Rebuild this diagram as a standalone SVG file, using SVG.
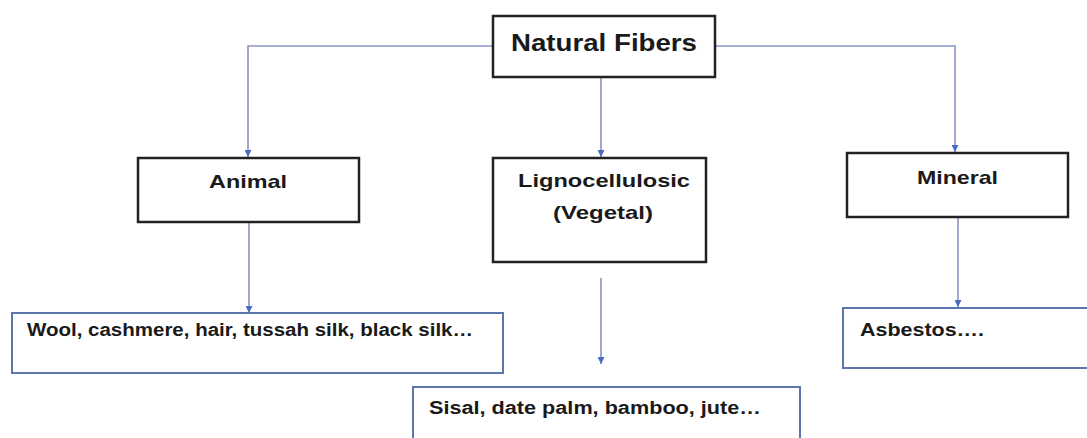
<svg xmlns="http://www.w3.org/2000/svg" width="1087" height="438" viewBox="0 0 1087 438">
<style>
.box{fill:#fff;stroke:#222;stroke-width:2.5}
.leaf{fill:#fff;stroke:#5a76ab;stroke-width:2}
.t{font-family:"Liberation Sans",Arial,sans-serif;font-weight:bold;fill:#1a1a1a}
.c{fill:none;stroke:#8a93c6;stroke-width:1.6}
</style>
<defs>
<marker id="ah" viewBox="0 0 10 10" refX="10" refY="5" markerWidth="7" markerHeight="7" markerUnits="userSpaceOnUse" orient="auto">
<path d="M0,0 L10,5 L0,10 z" fill="#4a6cc0"/>
</marker>
</defs>
<rect width="1087" height="438" fill="#fff"/>
<g id="connectors">
<path class="c" d="M493,46 H248 V157" marker-end="url(#ah)"/>
<path class="c" d="M601,77 V157" marker-end="url(#ah)"/>
<path class="c" d="M715,46 H955 V152" marker-end="url(#ah)"/>
<path class="c" d="M249,222 V313" marker-end="url(#ah)"/>
<path class="c" d="M601,278 V364" marker-end="url(#ah)"/>
<path class="c" d="M958,217 V307" marker-end="url(#ah)"/>
</g>
<g id="natural-fibers">
<rect class="box" x="493" y="16" width="222" height="61"/>
<text class="t" x="511" y="51" font-size="24" textLength="186" lengthAdjust="spacingAndGlyphs">Natural Fibers</text>
</g>
<g id="animal">
<rect class="box" x="138" y="158" width="221" height="64"/>
<text class="t" x="209" y="188" font-size="19" textLength="78" lengthAdjust="spacingAndGlyphs">Animal</text>
</g>
<g id="lignocellulosic">
<rect class="box" x="493" y="158" width="213" height="104"/>
<text class="t" x="518" y="187" font-size="19" textLength="172" lengthAdjust="spacingAndGlyphs">Lignocellulosic</text>
<text class="t" x="553" y="219" font-size="19" textLength="100" lengthAdjust="spacingAndGlyphs">(Vegetal)</text>
</g>
<g id="mineral">
<rect class="box" x="847" y="153" width="221" height="64"/>
<text class="t" x="917" y="184" font-size="19" textLength="81" lengthAdjust="spacingAndGlyphs">Mineral</text>
</g>
<g id="wool">
<rect class="leaf" x="12" y="313" width="491" height="60"/>
<text class="t" x="27" y="336" font-size="18" textLength="446" lengthAdjust="spacingAndGlyphs">Wool, cashmere, hair, tussah silk, black silk…</text>
</g>
<g id="sisal">
<rect class="leaf" x="413" y="387" width="387" height="60"/>
<text class="t" x="429" y="414" font-size="18" textLength="332" lengthAdjust="spacingAndGlyphs">Sisal, date palm, bamboo, jute…</text>
</g>
<g id="asbestos">
<rect class="leaf" x="843" y="308" width="250" height="60"/>
<text class="t" x="860" y="336" font-size="18" textLength="124" lengthAdjust="spacingAndGlyphs">Asbestos….</text>
</g>
</svg>
